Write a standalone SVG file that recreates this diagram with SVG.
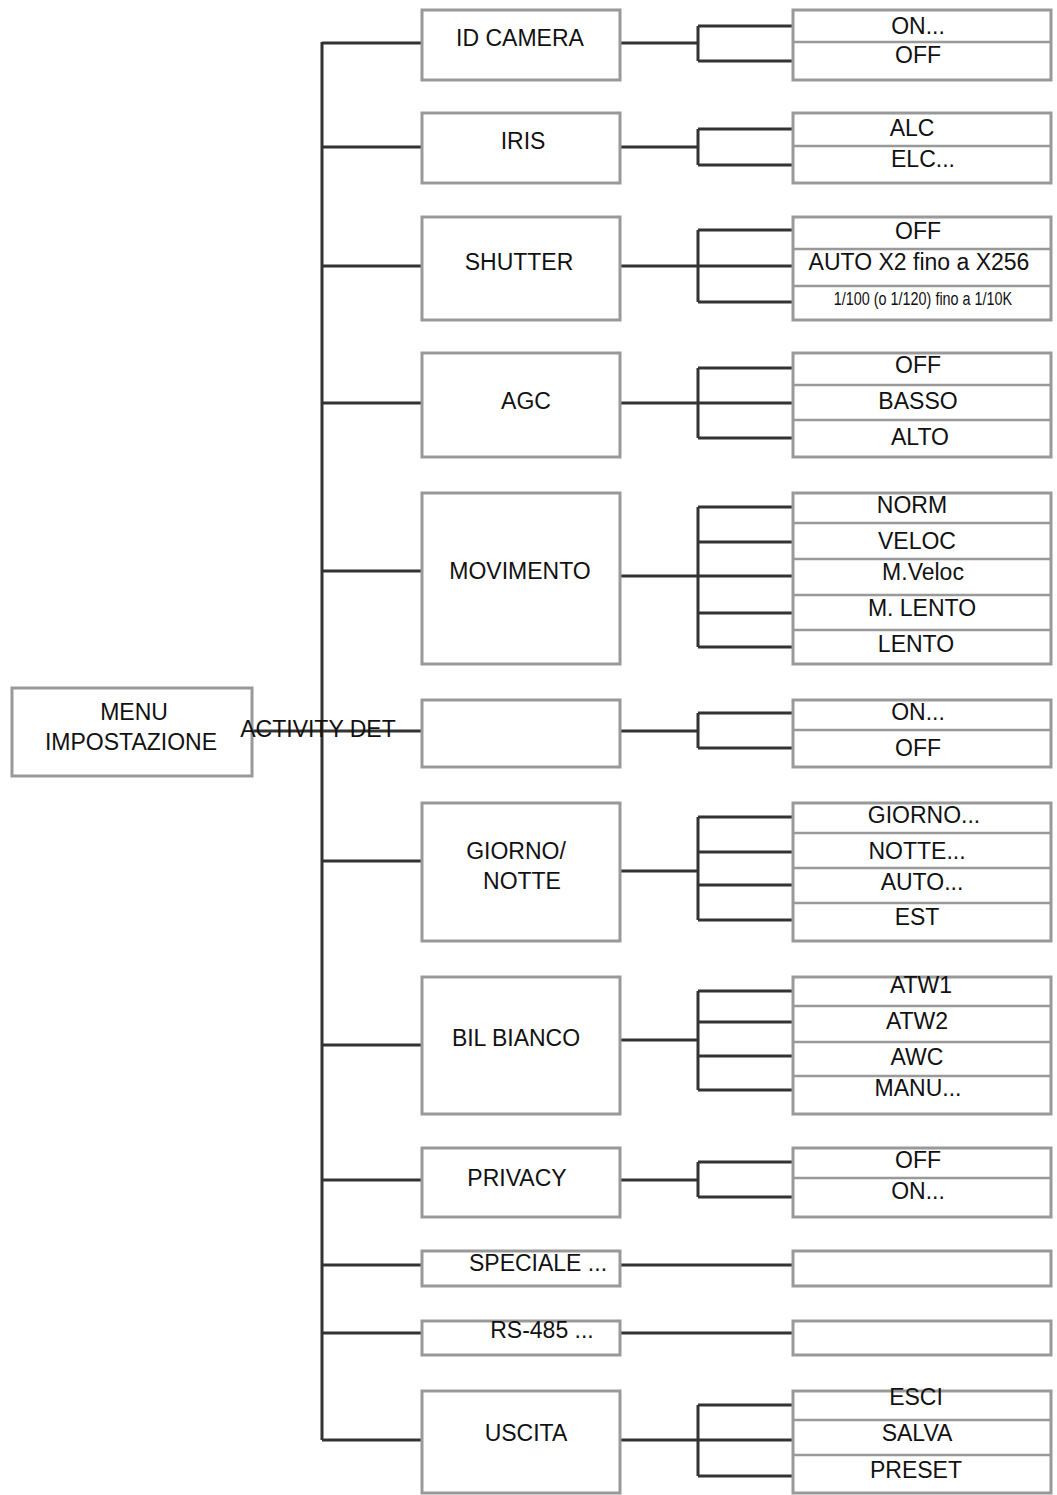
<svg xmlns="http://www.w3.org/2000/svg" width="1057" height="1495" viewBox="0 0 1057 1495">
<style>
.b{fill:#fff;stroke:#999;stroke-width:3}
.s{stroke:#999;stroke-width:2.5}
.c{fill:none;stroke:#333;stroke-width:3}
text{font-family:"Liberation Sans",Arial,sans-serif;font-size:23px;fill:#111;text-anchor:middle}
</style>
<rect width="1057" height="1495" fill="#fff"/>
<g id="connectors">
<path class="c" d="M322 42V1440M252 731H422M322 43H422M322 147H422M322 266H422M322 403H422M322 571H422M322 861H422M322 1045H422M322 1180H422M322 1265H422M322 1333H422M322 1440H422"/>
<path class="c" d="M620 43H698M698 26V61M698 26H793M698 61H793"/>
<path class="c" d="M620 147H698M698 129V165M698 129H793M698 165H793"/>
<path class="c" d="M620 266H793M698 230V302M698 230H793M698 302H793"/>
<path class="c" d="M620 403H793M698 368V438M698 368H793M698 438H793"/>
<path class="c" d="M620 576H793M698 507V647M698 507H793M698 542H793M698 613H793M698 647H793"/>
<path class="c" d="M620 731H698M698 713V748M698 713H793M698 748H793"/>
<path class="c" d="M620 871H698M698 817V920M698 817H793M698 852H793M698 885H793M698 920H793"/>
<path class="c" d="M620 1040H698M698 991V1090M698 991H793M698 1022H793M698 1056H793M698 1090H793"/>
<path class="c" d="M620 1180H698M698 1162V1197M698 1162H793M698 1197H793"/>
<path class="c" d="M620 1265H793M620 1333H793"/>
<path class="c" d="M620 1440H793M698 1405V1476M698 1405H793M698 1476H793"/>
</g>
<g id="menu"><rect class="b" x="12" y="688" width="240" height="88"/><text x="134" y="720">MENU</text><text x="131" y="750">IMPOSTAZIONE</text></g>
<g id="n1"><rect class="b" x="422" y="10" width="198" height="70"/><text x="520" y="46">ID CAMERA</text></g>
<g id="n2"><rect class="b" x="422" y="113" width="198" height="70"/><text x="523" y="149">IRIS</text></g>
<g id="n3"><rect class="b" x="422" y="217" width="198" height="103"/><text x="519" y="270">SHUTTER</text></g>
<g id="n4"><rect class="b" x="422" y="353" width="198" height="104"/><text x="526" y="409">AGC</text></g>
<g id="n5"><rect class="b" x="422" y="493" width="198" height="171"/><text x="520" y="579">MOVIMENTO</text></g>
<g id="n6"><rect class="b" x="422" y="700" width="198" height="67"/></g>
<text x="318" y="737">ACTIVITY DET</text>
<g id="n7"><rect class="b" x="422" y="803" width="198" height="138"/><text x="516" y="859">GIORNO/</text><text x="522" y="889">NOTTE</text></g>
<g id="n8"><rect class="b" x="422" y="977" width="198" height="137"/><text x="516" y="1046">BIL BIANCO</text></g>
<g id="n9"><rect class="b" x="422" y="1148" width="198" height="69"/><text x="517" y="1186">PRIVACY</text></g>
<g id="n10"><rect class="b" x="422" y="1251" width="198" height="35"/><text x="538" y="1271">SPECIALE ...</text></g>
<g id="n11"><rect class="b" x="422" y="1321" width="198" height="34"/><text x="542" y="1338">RS-485 ...</text></g>
<g id="n12"><rect class="b" x="422" y="1391" width="198" height="102"/><text x="526" y="1441">USCITA</text></g>
<g id="o1"><rect class="b" x="793" y="10" width="258" height="70"/><path class="s" d="M793 42H1051"/><text x="918" y="34">ON...</text><text x="918" y="63">OFF</text></g>
<g id="o2"><rect class="b" x="793" y="113" width="258" height="70"/><path class="s" d="M793 146H1051"/><text x="912" y="136">ALC</text><text x="923" y="167">ELC...</text></g>
<g id="o3"><rect class="b" x="793" y="217" width="258" height="103"/><path class="s" d="M793 249H1051M793 286H1051"/><text x="918" y="239">OFF</text><text x="919" y="270">AUTO X2 fino a X256</text><text x="923" y="305" style="font-size:18px" transform="translate(923 305) scale(0.8 1) translate(-923 -305)">1/100 (o 1/120) fino a 1/10K</text></g>
<g id="o4"><rect class="b" x="793" y="353" width="258" height="104"/><path class="s" d="M793 385H1051M793 420H1051"/><text x="918" y="373">OFF</text><text x="918" y="409">BASSO</text><text x="920" y="445">ALTO</text></g>
<g id="o5"><rect class="b" x="793" y="493" width="258" height="171"/><path class="s" d="M793 523H1051M793 559H1051M793 595H1051M793 630H1051"/><text x="912" y="513">NORM</text><text x="917" y="549">VELOC</text><text x="923" y="580">M.Veloc</text><text x="922" y="616">M. LENTO</text><text x="916" y="652">LENTO</text></g>
<g id="o6"><rect class="b" x="793" y="700" width="258" height="67"/><path class="s" d="M793 730H1051"/><text x="918" y="720">ON...</text><text x="918" y="756">OFF</text></g>
<g id="o7"><rect class="b" x="793" y="803" width="258" height="138"/><path class="s" d="M793 833H1051M793 868H1051M793 903H1051"/><text x="924" y="823">GIORNO...</text><text x="917" y="859">NOTTE...</text><text x="922" y="890">AUTO...</text><text x="917" y="925">EST</text></g>
<g id="o8"><rect class="b" x="793" y="977" width="258" height="137"/><path class="s" d="M793 1006H1051M793 1042H1051M793 1076H1051"/><text x="921" y="993">ATW1</text><text x="917" y="1029">ATW2</text><text x="917" y="1065">AWC</text><text x="918" y="1096">MANU...</text></g>
<g id="o9"><rect class="b" x="793" y="1148" width="258" height="69"/><path class="s" d="M793 1178H1051"/><text x="918" y="1168">OFF</text><text x="918" y="1199">ON...</text></g>
<g id="o10"><rect class="b" x="793" y="1251" width="258" height="35"/></g>
<g id="o11"><rect class="b" x="793" y="1321" width="258" height="34"/></g>
<g id="o12"><rect class="b" x="793" y="1391" width="258" height="102"/><path class="s" d="M793 1420H1051M793 1455H1051"/><text x="916" y="1405">ESCI</text><text x="917" y="1441">SALVA</text><text x="916" y="1478">PRESET</text></g>
</svg>
